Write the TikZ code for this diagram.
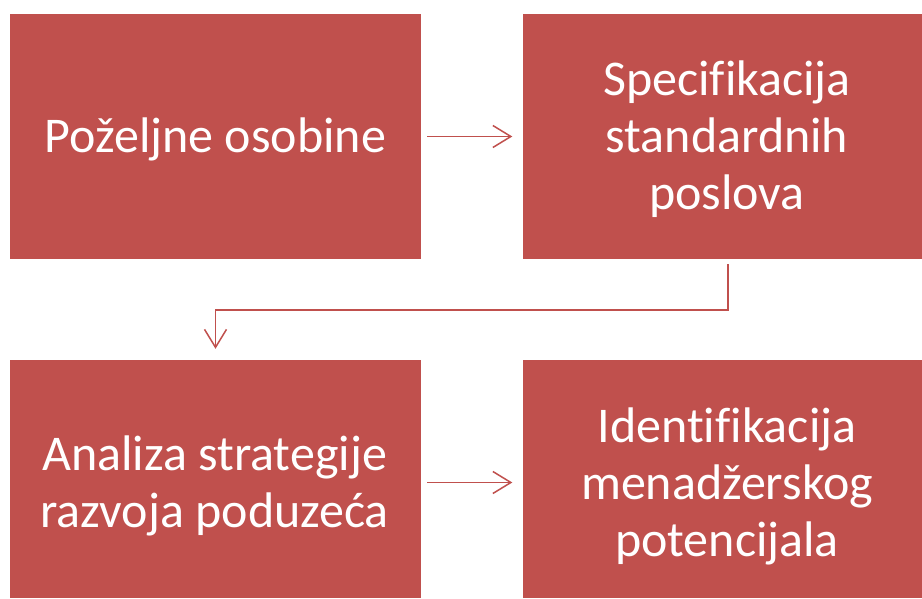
\documentclass[tikz,border=0pt]{standalone}
\usepackage{fontspec}
\setmainfont{Carlito}[Ligatures=NoCommon]
\usetikzlibrary{arrows.meta}
\definecolor{boxred}{HTML}{C0504D}
\tikzset{
  stepbox/.style={fill=boxred, inner sep=0pt},
  topbox/.style={stepbox, minimum height=245pt},
  lowbox/.style={stepbox, minimum height=238pt},
  steptext/.style={text=white, inner sep=0pt, align=center,
    font=\fontsize{50}{57}\selectfont},
  flow/.style={draw=boxred, line width=1.5pt,
    -{Straight Barb[length=18pt, width=22pt, line width=1.5pt]}}
}
\begin{document}
\begin{tikzpicture}[x=1pt, y=-1pt]
    \useasboundingbox (0,0) rectangle (922,599);
    % the four boxes
    \node [topbox, minimum width=411pt] (wish) at (215.5,136.5) {};
    \node [topbox, minimum width=399pt] (spec) at (722,136.5) {};
    \node [lowbox, minimum width=411pt] (plan) at (215.5,479) {};
    \node [lowbox, minimum width=399pt] (pot) at (722,479) {};
    % their texts
    \node [steptext] (wishtxt) at ([shift={(0,3)}]wish.center) {Poželjne osobine};
    \node [steptext] (spectxt) at ([shift={(5,3)}]spec.center) {Specifikacija\\standardnih\\poslova};
    \node [steptext] (plantxt) at ([shift={(-1,7)}]plan.center) {Analiza strategije\\razvoja poduzeća};
    \node [steptext] (pottxt) at ([shift={(5,7)}]pot.center) {Identifikacija\\menadžerskog\\potencijala};
    % connectors
    \coordinate (turn) at (215.5,310);
    \draw [flow] ([xshift=6pt]wish.east) -- ([xshift=-10pt]spec.west);
    \draw [flow] ([xshift=6pt,yshift=-5pt]spec.south) |- (turn) -- ([yshift=11pt]plan.north);
    \draw [flow] ([xshift=6pt,yshift=-3.5pt]plan.east) -- ([xshift=-10pt,yshift=-3.5pt]pot.west);
\end{tikzpicture}
\end{document}
